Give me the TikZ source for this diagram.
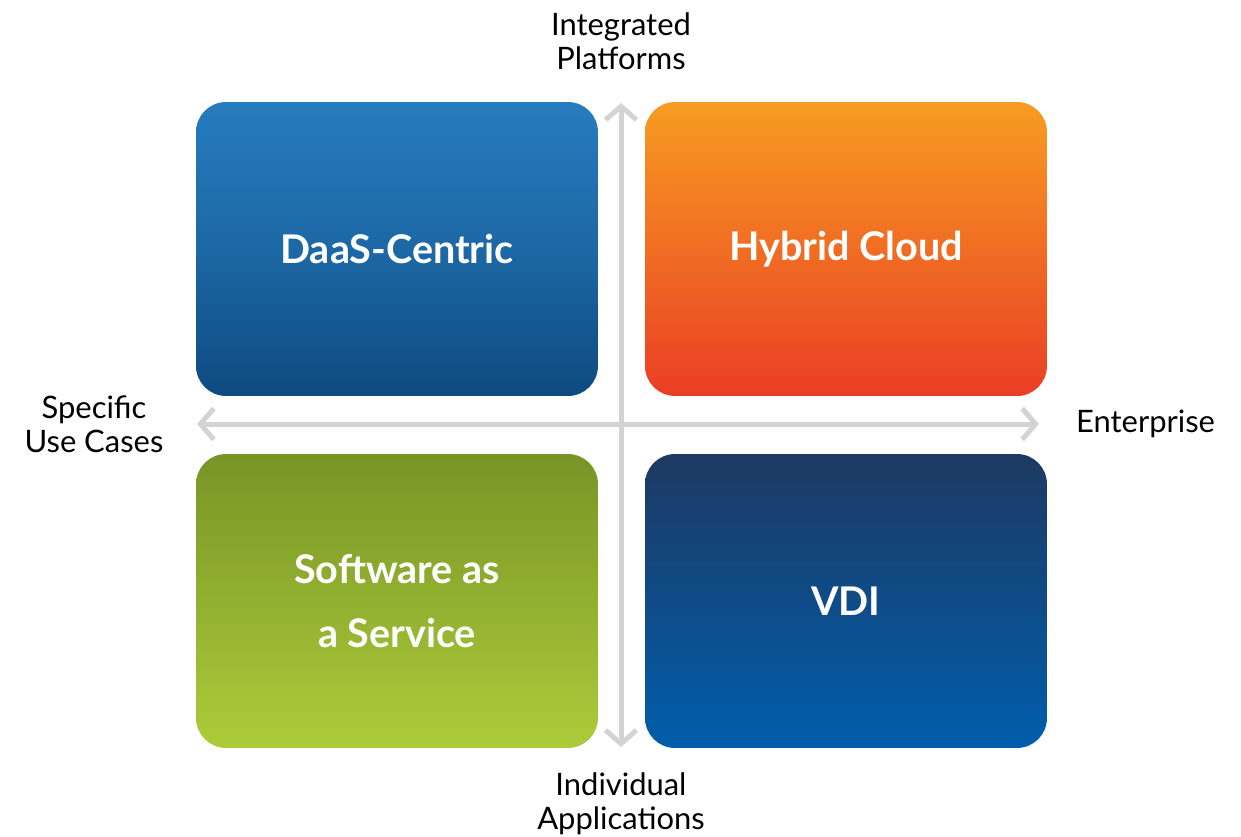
\documentclass[tikz,border=0pt]{standalone}
\usepackage{fontspec}
\setmainfont{Lato}
\usepackage{tikz}
\usetikzlibrary{arrows.meta}

\definecolor{daastop}{RGB}{38,124,190}
\definecolor{daasbot}{RGB}{14,74,128}
\definecolor{hybtop}{RGB}{247,156,34}
\definecolor{hybbot}{RGB}{234,62,36}
\definecolor{saastop}{RGB}{120,148,38}
\definecolor{saasbot}{RGB}{172,204,58}
\definecolor{vditop}{RGB}{30,57,98}
\definecolor{vdibot}{RGB}{0,94,172}
\definecolor{axisgray}{RGB}{211,211,211}

\begin{document}
\begin{tikzpicture}[x=0.02cm,y=-0.02cm,
                    quad/.style={rectangle, rounded corners=0.6cm,
                                 minimum width=8.04cm, minimum height=5.88cm,
                                 text=white, align=center,
                                 font=\bfseries\fontsize{22.5}{36}\selectfont},
                    axislabel/.style={align=center,
                                 font=\fontsize{17.6}{19.4}\selectfont},
                    axisline/.style={draw=axisgray, line width=0.1cm,
                                 {Straight Barb[length=0.27cm,width=0.62cm]}-{Straight Barb[length=0.27cm,width=0.62cm]}}]

        \useasboundingbox (0,0) rectangle (1241,836);

        % quadrants
        \node[quad, top color=daastop, bottom color=daasbot, middle color=daastop!60!daasbot] (daas) at (397,249) {DaaS-Centric};
        \node[quad, top color=hybtop, bottom color=hybbot] (hybrid) at (846,249) {Hybrid Cloud};
        \node[quad, top color=saastop, bottom color=saasbot] (saas) at (397,601) {Software as\\a Service};
        \node[quad, top color=vditop, bottom color=vdibot] (vdi) at (846,601) {VDI};

        % axis ends
        \coordinate (ytop) at (621,103);
        \coordinate (ybot) at (621,747);
        \coordinate (xleft) at (197,424);
        \coordinate (xright) at (1039,424);

        \draw[axisline] (ybot) -- (ytop);
        \draw[axisline] (xleft) -- (xright);

        % axis labels
        \node[axislabel] (integrated) at (621,41) {Integrated\\Platforms};
        \node[axislabel] (individual) at (621,804) {Individual\\Applications};
        \node[axislabel] (specific) at (94,424) {Specific\\Use Cases};
        \node[axislabel, anchor=west] (enterprise) at (1070,424) {Enterprise};
    \end{tikzpicture}
\end{document}
